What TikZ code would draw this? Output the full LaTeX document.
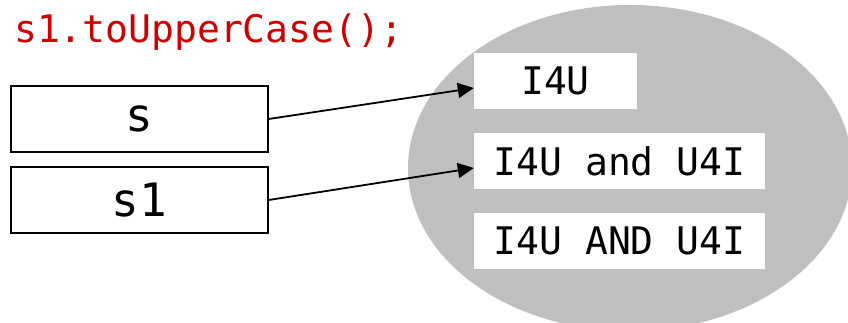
\documentclass[tikz,border=0pt]{standalone}
\usepackage{fontspec}
\setmonofont{DejaVu Sans Mono}
\usepackage{tikz}
\usetikzlibrary{arrows.meta}

\definecolor{codered}{RGB}{204,0,0}

\tikzset{
  var/.style={draw=black,line width=1.4pt,fill=white,inner sep=0pt,
    minimum width=257pt,minimum height=66pt,
    font=\ttfamily\fontsize{46}{50}\selectfont},
  str/.style={fill=white,inner sep=0pt,minimum height=56pt,
    font=\ttfamily\fontsize{38}{42}\selectfont},
  ref/.style={line width=1.8pt,-{Triangle[length=16pt,width=15pt]}}
}

\begin{document}
\begin{tikzpicture}[x=1pt,y=-1pt]
\useasboundingbox (0,0) rectangle (848,323);

\fill[gray!50] (630,168) ellipse [x radius=222, y radius=163];

\node[anchor=base west,inner sep=0pt,text=codered,
  font=\ttfamily\fontsize{38}{42}\selectfont] (call) at (14,43) {s1.toUpperCase();};

\node[var] (s) at (139.5,119) {s};
\node[var] (s1) at (139.5,200) {s1};

\node[str,minimum width=163pt] (i4u) at (555.5,81) {I4U};
\node[str,minimum width=291pt] (lower) at (619.5,161) {I4U and U4I};
\node[str,minimum width=291pt] (upper) at (619.5,241) {I4U AND U4I};

\draw[ref] (s.east) -- ([yshift=-7pt]i4u.west);
\draw[ref] (s1.east) -- ([yshift=-7pt]lower.west);

\end{tikzpicture}
\end{document}
